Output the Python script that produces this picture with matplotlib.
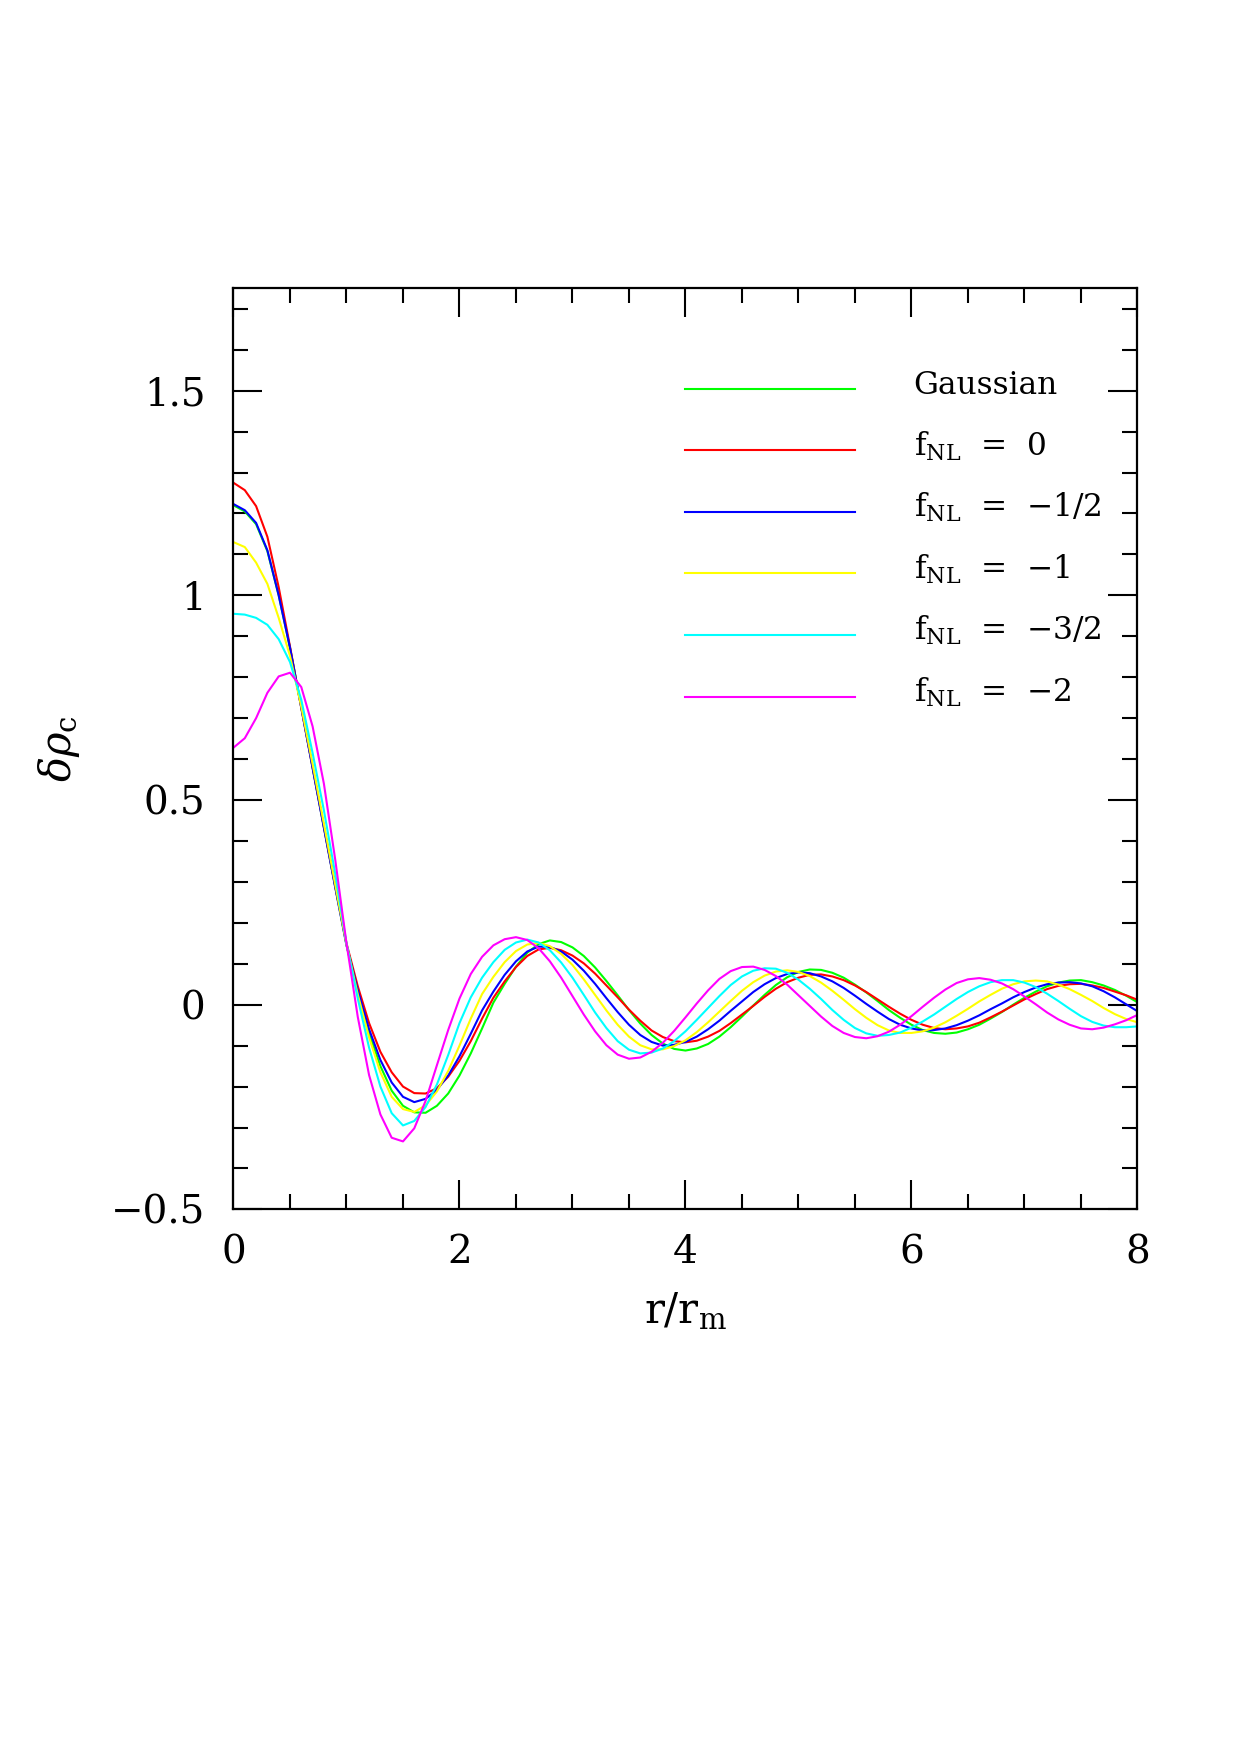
import matplotlib
matplotlib.use("Agg")
import matplotlib.pyplot as plt
from matplotlib.ticker import MultipleLocator, FixedLocator, FixedFormatter

plt.rcParams["font.family"] = ["DejaVu Serif"]
plt.rcParams["mathtext.fontset"] = "dejavuserif"

# r / r_m sample points (values below at these radii)
R = [0.0, 0.1, 0.2, 0.3, 0.4, 0.5, 0.6, 0.7, 0.8, 0.9,
     1.0, 1.1, 1.2, 1.3, 1.4, 1.5, 1.6, 1.7, 1.8, 1.9,
     2.0, 2.1, 2.2, 2.3, 2.4, 2.5, 2.6, 2.7, 2.8, 2.9,
     3.0, 3.1, 3.2, 3.3, 3.4, 3.5, 3.6, 3.7, 3.8, 3.9,
     4.0, 4.1, 4.2, 4.3, 4.4, 4.5, 4.6, 4.7, 4.8, 4.9,
     5.0, 5.1, 5.2, 5.3, 5.4, 5.5, 5.6, 5.7, 5.8, 5.9,
     6.0, 6.1, 6.2, 6.3, 6.4, 6.5, 6.6, 6.7, 6.8, 6.9,
     7.0, 7.1, 7.2, 7.3, 7.4, 7.5, 7.6, 7.7, 7.8, 7.9,
     8.0]

GAUSSIAN = [1.220, 1.205, 1.174, 1.108, 1.000, 0.872, 0.727, 0.580, 0.434, 0.289,
            0.147, 0.030, -0.070, -0.150, -0.210, -0.247, -0.263, -0.264, -0.247, -0.217,
            -0.173, -0.119, -0.058, 0.005, 0.051, 0.093, 0.127, 0.148, 0.157, 0.153,
            0.140, 0.119, 0.091, 0.058, 0.023, -0.013, -0.046, -0.074, -0.095, -0.108,
            -0.112, -0.107, -0.096, -0.078, -0.055, -0.029, -0.002, 0.024, 0.048, 0.067,
            0.080, 0.086, 0.085, 0.078, 0.066, 0.049, 0.030, 0.009, -0.013, -0.032,
            -0.049, -0.062, -0.069, -0.071, -0.068, -0.060, -0.049, -0.034, -0.018, 0.000,
            0.017, 0.032, 0.045, 0.054, 0.059, 0.060, 0.055, 0.047, 0.036, 0.022,
            0.006]

FNL_0 = [1.275, 1.257, 1.218, 1.143, 1.020, 0.875, 0.725, 0.580, 0.435, 0.290,
         0.150, 0.045, -0.045, -0.115, -0.165, -0.200, -0.216, -0.217, -0.204, -0.176,
         -0.137, -0.089, -0.034, 0.017, 0.057, 0.092, 0.119, 0.135, 0.139, 0.133,
         0.120, 0.101, 0.076, 0.047, 0.018, -0.012, -0.039, -0.063, -0.079, -0.089,
         -0.092, -0.088, -0.078, -0.064, -0.045, -0.024, -0.003, 0.019, 0.039, 0.055,
         0.066, 0.073, 0.074, 0.069, 0.060, 0.047, 0.031, 0.013, -0.005, -0.022,
         -0.037, -0.049, -0.057, -0.060, -0.058, -0.053, -0.044, -0.031, -0.017, -0.002,
         0.013, 0.026, 0.038, 0.046, 0.050, 0.051, 0.047, 0.041, 0.032, 0.023,
         0.012]

FNL_M05 = [1.223, 1.208, 1.177, 1.110, 1.000, 0.872, 0.725, 0.578, 0.432, 0.287,
           0.145, 0.035, -0.060, -0.135, -0.190, -0.225, -0.238, -0.230, -0.208, -0.173,
           -0.126, -0.071, -0.014, 0.032, 0.073, 0.106, 0.130, 0.142, 0.141, 0.130,
           0.110, 0.083, 0.051, 0.016, -0.018, -0.049, -0.074, -0.091, -0.100, -0.098,
           -0.091, -0.078, -0.060, -0.039, -0.015, 0.008, 0.031, 0.050, 0.065, 0.075,
           0.079, 0.077, 0.069, 0.057, 0.041, 0.022, 0.002, -0.017, -0.035, -0.049,
           -0.058, -0.063, -0.062, -0.058, -0.050, -0.039, -0.026, -0.011, 0.003, 0.018,
           0.031, 0.042, 0.050, 0.054, 0.055, 0.052, 0.045, 0.033, 0.018, 0.001,
           -0.016]

FNL_M1 = [1.130, 1.118, 1.080, 1.028, 0.945, 0.852, 0.728, 0.588, 0.442, 0.294,
          0.147, 0.025, -0.080, -0.165, -0.225, -0.255, -0.262, -0.246, -0.212, -0.162,
          -0.100, -0.034, 0.026, 0.068, 0.104, 0.131, 0.147, 0.151, 0.143, 0.124,
          0.097, 0.062, 0.024, -0.014, -0.049, -0.078, -0.099, -0.109, -0.109, -0.101,
          -0.087, -0.067, -0.043, -0.017, 0.009, 0.034, 0.055, 0.071, 0.081, 0.084,
          0.080, 0.070, 0.054, 0.034, 0.012, -0.011, -0.032, -0.050, -0.063, -0.069,
          -0.069, -0.065, -0.056, -0.043, -0.027, -0.010, 0.008, 0.024, 0.039, 0.050,
          0.057, 0.059, 0.057, 0.049, 0.038, 0.024, 0.009, -0.008, -0.023, -0.035,
          -0.043]

FNL_M15 = [0.955, 0.953, 0.945, 0.928, 0.893, 0.837, 0.745, 0.615, 0.475, 0.320,
           0.150, 0.015, -0.105, -0.200, -0.265, -0.295, -0.284, -0.250, -0.195, -0.123,
           -0.045, 0.018, 0.066, 0.104, 0.134, 0.152, 0.159, 0.152, 0.133, 0.103,
           0.066, 0.024, -0.019, -0.057, -0.089, -0.110, -0.119, -0.117, -0.107, -0.089,
           -0.065, -0.037, -0.008, 0.021, 0.048, 0.069, 0.083, 0.089, 0.088, 0.078,
           0.061, 0.039, 0.014, -0.013, -0.037, -0.057, -0.070, -0.076, -0.074, -0.068,
           -0.056, -0.041, -0.024, -0.005, 0.014, 0.031, 0.045, 0.055, 0.060, 0.060,
           0.054, 0.043, 0.027, 0.009, -0.010, -0.028, -0.042, -0.051, -0.055, -0.055,
           -0.053]

FNL_M2 = [0.628, 0.651, 0.700, 0.762, 0.802, 0.811, 0.776, 0.680, 0.540, 0.355,
          0.150, -0.030, -0.172, -0.268, -0.325, -0.334, -0.302, -0.235, -0.148, -0.062,
          0.015, 0.075, 0.117, 0.145, 0.160, 0.165, 0.158, 0.138, 0.106, 0.066,
          0.021, -0.024, -0.065, -0.099, -0.122, -0.132, -0.129, -0.115, -0.093, -0.064,
          -0.031, 0.003, 0.035, 0.063, 0.082, 0.092, 0.093, 0.085, 0.070, 0.049,
          0.023, -0.003, -0.029, -0.052, -0.069, -0.079, -0.082, -0.077, -0.066, -0.049,
          -0.028, -0.005, 0.017, 0.037, 0.053, 0.062, 0.065, 0.061, 0.052, 0.038,
          0.020, 0.001, -0.019, -0.036, -0.049, -0.058, -0.060, -0.056, -0.048, -0.038,
          -0.025]

SERIES = [GAUSSIAN, FNL_0, FNL_M05, FNL_M1, FNL_M15, FNL_M2]
LABELS = [
    "Gaussian",
    "f$_{\\mathrm{NL}}$  =  0",
    "f$_{\\mathrm{NL}}$  =  \u22121/2",
    "f$_{\\mathrm{NL}}$  =  \u22121",
    "f$_{\\mathrm{NL}}$  =  \u22123/2",
    "f$_{\\mathrm{NL}}$  =  \u22122",
]
COLORS = ["#00ff00", "#ff0000", "#0000ff", "#ffff00", "#00ffff", "#ff00ff"]

X_TICKS = [0, 2, 4, 6, 8]
X_TICK_LABELS = ["0", "2", "4", "6", "8"]
Y_TICKS = [-0.5, 0.0, 0.5, 1.0, 1.5]
Y_TICK_LABELS = ["\u22120.5", "0", "0.5", "1", "1.5"]

# legend layout (data coordinates)
LEG_X0, LEG_X1, LEG_TX = 4.0, 5.5, 6.02
LEG_Y0, LEG_DY = 1.505, 0.1505


fig = plt.figure(figsize=(12.4, 17.55), dpi=100)
ax = fig.add_axes([0.1883, 0.3109, 0.729, 0.5248])

for values, color in zip(SERIES, COLORS):
    ax.plot(R, values, color=color, linewidth=1.5, solid_joinstyle="round")

for i, (label, color) in enumerate(zip(LABELS, COLORS)):
    y = LEG_Y0 - i * LEG_DY
    ax.plot([LEG_X0, LEG_X1], [y, y], color=color, linewidth=1.5)
    ax.text(LEG_TX, y - 0.013, label, fontsize=22.5, ha="left", va="baseline",
            color="black")

ax.set_xlim(0, 8)
ax.set_ylim(-0.5, 1.75)

ax.xaxis.set_major_locator(FixedLocator(X_TICKS))
ax.xaxis.set_major_formatter(FixedFormatter(X_TICK_LABELS))
ax.xaxis.set_minor_locator(MultipleLocator(0.5))
ax.yaxis.set_major_locator(FixedLocator(Y_TICKS))
ax.yaxis.set_major_formatter(FixedFormatter(Y_TICK_LABELS))
ax.yaxis.set_minor_locator(MultipleLocator(0.1))

ax.tick_params(which="both", direction="in", top=True, right=True, width=1.5,
               labelsize=28)
ax.tick_params(which="major", length=21, pad=18)
ax.tick_params(axis="y", which="major", pad=20)
ax.tick_params(which="minor", length=10.5)

for spine in ax.spines.values():
    spine.set_linewidth(1.6)

ax.set_xlabel("r/r$_{\\mathrm{m}}$", fontsize=30, labelpad=14)
ax.set_ylabel("$\\delta\\rho_{\\mathrm{c}}$", fontsize=30)
ax.yaxis.set_label_coords(-0.168, 0.5)

fig.savefig("out.png", dpi=100, facecolor="white")
